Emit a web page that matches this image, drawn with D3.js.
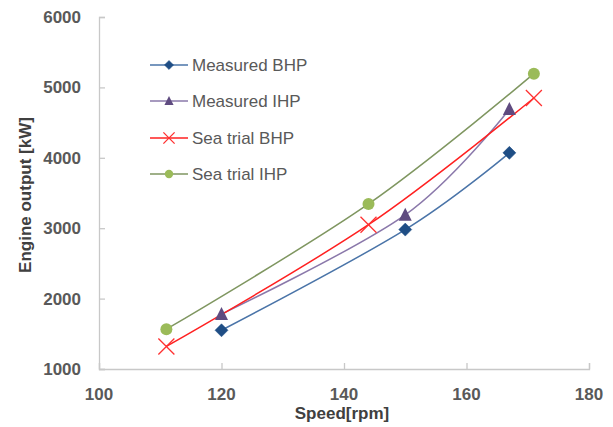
<!DOCTYPE html>
<html>
<head>
<meta charset="utf-8">
<script src="https://cdn.jsdelivr.net/npm/d3@7"></script>
<style>
  html, body { margin: 0; padding: 0; background: #fff; }
  svg { display: block; }
  text { font-family: "Liberation Sans", Arial, sans-serif; }
</style>
</head>
<body>
<svg id="chart" width="613" height="427"></svg>
<script>
// Engine output versus shaft speed
const seriesNames = ["Measured BHP", "Measured IHP", "Sea trial BHP", "Sea trial IHP"];

const measuredBhpSpeed = [120, 150, 167];
const measuredBhpPower = [1550, 2980, 4070];

const measuredIhpSpeed = [120, 150, 167];
const measuredIhpPower = [1780, 3190, 4690];

const seaTrialBhpSpeed = [111, 144, 171];
const seaTrialBhpPower = [1320, 3050, 4850];

const seaTrialIhpSpeed = [111, 144, 171];
const seaTrialIhpPower = [1565, 3345, 5195];

const xTicks = [100, 120, 140, 160, 180];
const yTicks = [1000, 2000, 3000, 4000, 5000, 6000];

const xTitle = "Speed[rpm]";
const yTitle = "Engine output [kW]";

const series = [
  { name: seriesNames[0], xs: measuredBhpSpeed, ys: measuredBhpPower, line: "#4a74a8", fill: "#1f4e85", marker: "diamond" },
  { name: seriesNames[1], xs: measuredIhpSpeed, ys: measuredIhpPower, line: "#8a78aa", fill: "#5f4b80", marker: "triangle" },
  { name: seriesNames[2], xs: seaTrialBhpSpeed, ys: seaTrialBhpPower, line: "#ff2020", fill: "#ff3030", marker: "cross" },
  { name: seriesNames[3], xs: seaTrialIhpSpeed, ys: seaTrialIhpPower, line: "#7f9660", fill: "#9bbb59", marker: "circle" }
];

const svg = d3.select("#chart");
const axisColor = "#c8c8c8";
const labelColor = "#595959";

const x = d3.scaleLinear().domain([100, 180]).range([99, 589]);
const y = d3.scaleLinear().domain([1000, 6000]).range([369, 17]);

// Axes with inward-facing ticks
const xAxis = svg.append("g").attr("transform", `translate(0,${y(1000)})`)
  .call(d3.axisTop(x).tickValues(xTicks).tickSize(6).tickFormat(""));
const yAxis = svg.append("g").attr("transform", `translate(${x(100)},0)`)
  .call(d3.axisRight(y).tickValues(yTicks).tickSize(6).tickFormat(""));
[xAxis, yAxis].forEach(g => {
  g.selectAll("path, line").attr("stroke", axisColor).attr("stroke-width", 1.3);
});

// Tick labels
svg.append("g").selectAll("text").data(xTicks).join("text")
  .attr("x", d => x(d)).attr("y", 400)
  .attr("text-anchor", "middle")
  .attr("font-size", 17).attr("font-weight", "bold").attr("fill", labelColor)
  .text(d => d);
svg.append("g").selectAll("text").data(yTicks).join("text")
  .attr("x", 81).attr("y", d => y(d) + 6)
  .attr("text-anchor", "end")
  .attr("font-size", 17).attr("font-weight", "bold").attr("fill", labelColor)
  .text(d => d);

// Axis titles
svg.append("text")
  .attr("x", 342).attr("y", 419)
  .attr("text-anchor", "middle")
  .attr("font-size", 17).attr("font-weight", "bold").attr("fill", "#404040")
  .text(xTitle);
svg.append("text")
  .attr("transform", `translate(31,195) rotate(-90)`)
  .attr("text-anchor", "middle")
  .attr("font-size", 17).attr("font-weight", "bold").attr("fill", "#404040")
  .text(yTitle);

// Smoothed series lines
const line = d3.line()
  .x(d => x(d[0])).y(d => y(d[1]))
  .curve(d3.curveCatmullRom.alpha(0));

function drawMarker(g, type, cx, cy, s, c) {
  if (type === "diamond") {
    const r = 6.5 * s;
    g.append("path").attr("d", `M${cx},${cy - r}L${cx + r},${cy}L${cx},${cy + r}L${cx - r},${cy}Z`)
      .attr("fill", c.fill).attr("stroke", c.fill).attr("stroke-width", 0.5);
  } else if (type === "triangle") {
    const h = 13 * s, w = 13 * s;
    g.append("path").attr("d", `M${cx},${cy - h * 0.55}L${cx + w / 2},${cy + h * 0.45}L${cx - w / 2},${cy + h * 0.45}Z`)
      .attr("fill", c.fill);
  } else if (type === "cross") {
    const r = 8 * s;
    g.append("path").attr("d", `M${cx - r},${cy - r}L${cx + r},${cy + r}M${cx - r},${cy + r}L${cx + r},${cy - r}`)
      .attr("stroke", c.fill).attr("stroke-width", 1.3).attr("fill", "none");
  } else {
    g.append("circle").attr("cx", cx).attr("cy", cy).attr("r", 6 * s).attr("fill", c.fill);
  }
}

const plot = svg.append("g");
series.forEach(s => {
  const pts = s.xs.map((v, i) => [v, s.ys[i]]);
  plot.append("path").attr("d", line(pts))
    .attr("fill", "none").attr("stroke", s.line).attr("stroke-width", 1.5);
});
series.forEach(s => {
  s.xs.forEach((v, i) => drawMarker(plot, s.marker, x(v), y(s.ys[i]), 1, s));
});

// Legend
const legendRows = [65, 101, 138, 174];
const legend = svg.append("g");
series.forEach((s, i) => {
  const ly = legendRows[i];
  legend.append("line").attr("x1", 150).attr("x2", 188).attr("y1", ly).attr("y2", ly)
    .attr("stroke", s.line).attr("stroke-width", 1.5);
  drawMarker(legend, s.marker, 169, ly, 0.7, s);
  legend.append("text").attr("x", 192).attr("y", ly + 6)
    .attr("font-size", 17).attr("fill", labelColor)
    .text(s.name);
});
</script>
</body>
</html>
